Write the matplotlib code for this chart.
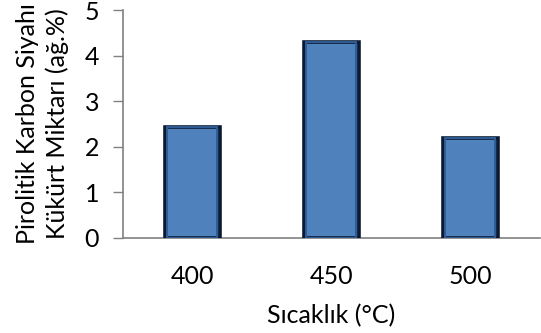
import matplotlib
matplotlib.use("Agg")
import matplotlib.pyplot as plt
import numpy as np

categories = ["400", "450", "500"]
values = [2.42, 4.30, 2.18]
yticks = [0, 1, 2, 3, 4, 5]

plt.rcParams['font.family'] = ['Lato', 'DejaVu Sans']

fig = plt.figure(figsize=(5.41, 3.33), dpi=100)
ax = fig.add_axes([122.7/541, 1 - 237.7/333, (540 - 122.7)/541, (237.7 - 10)/333])

x = np.arange(len(categories))
ax.bar(x, values, width=0.395, color="#4F81BD", edgecolor="#0B1A33", linewidth=2.6, zorder=3)
ax.bar(x, values, width=0.395 - 0.035, color="none", edgecolor="#2F5C94", linewidth=1.4, zorder=4)

ax.set_xlim(-0.5, len(categories) - 0.5)
ax.set_ylim(0, 5)
ax.set_yticks(yticks)
ax.set_yticklabels([str(t) for t in yticks], fontsize=18)
ax.set_xticks(x)
ax.set_xticklabels(categories, fontsize=18)
ax.tick_params(axis='y', length=7, width=1, color="#808080", pad=10)
ax.tick_params(axis='x', length=0, pad=20)

for s in ["top", "right"]:
    ax.spines[s].set_visible(False)
for s in ["left", "bottom"]:
    ax.spines[s].set_color("#808080")
    ax.spines[s].set_linewidth(1.2)

ax.set_xlabel("Sıcaklık (°C)", fontsize=18, labelpad=11)
ax.set_ylabel("Pirolitik Karbon Siyahı\nKükürt Miktarı (ağ.%)", fontsize=18, labelpad=11, linespacing=1.35)

fig.savefig("out.png", dpi=100)
